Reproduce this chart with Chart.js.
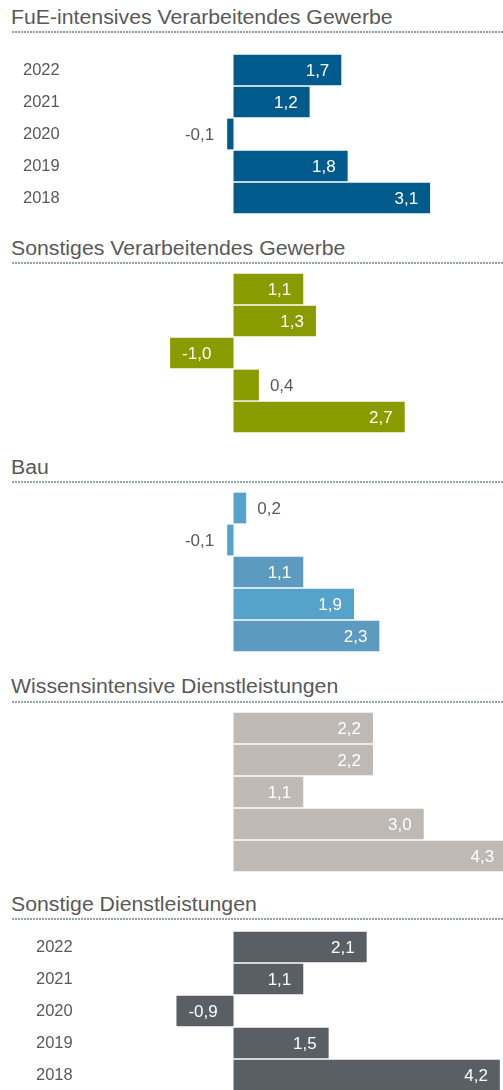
<!DOCTYPE html>
<html><head><meta charset="utf-8">
<script src="https://cdn.jsdelivr.net/npm/chart.js@4"></script>
<style>
html,body{margin:0;padding:0;width:503px;height:1090px;overflow:hidden;background:#fff;font-family:"Liberation Sans",Arial,sans-serif;}
.title{position:absolute;left:11px;font-size:19.5px;line-height:22px;color:#595959;white-space:nowrap;transform:scaleX(1.09);transform-origin:left top;}
.rule{position:absolute;left:12px;width:491px;height:2px;background-image:linear-gradient(to right,#93a39f 0,#93a39f 2px,transparent 2px);background-size:3px 2px;}
canvas{position:absolute;left:0;}
</style></head><body>
<script>
// ---- data ----
const years = ['2022', '2021', '2020', '2019', '2018'];
const panelTitles = [
  'FuE-intensives Verarbeitendes Gewerbe',
  'Sonstiges Verarbeitendes Gewerbe',
  'Bau',
  'Wissensintensive Dienstleistungen',
  'Sonstige Dienstleistungen'
];
const fueValues = [1.7, 1.2, -0.1, 1.8, 3.1];
const sonstVgValues = [1.1, 1.3, -1.0, 0.4, 2.7];
const bauValues = [0.2, -0.1, 1.1, 1.9, 2.3];
const wissenValues = [2.2, 2.2, 1.1, 3.0, 4.3];
const sonstDlValues = [2.1, 1.1, -0.9, 1.5, 4.2];

// ---- styling / layout ----
const panelSeries = [fueValues, sonstVgValues, bauValues, wissenValues, sonstDlValues];
const panelColors = [
  '#005B8C',
  '#8A9B00',
  ['#55A3CB', '#55A3CB', '#5C9BBF', '#55A3CB', '#5C9BBF'],
  '#BEB9B5',
  '#5A5F65'
];
const titleTops = [6.3, 237.3, 456.3, 675.3, 893.3];
const ruleTops = [31, 262, 481, 701, 918];
const canvasTops = [54, 273, 492, 712, 931];
const yearPad = [23, 0, 0, 0, 36];
const showYears = [true, false, false, false, true];
const FONT = '"Liberation Sans", Arial, sans-serif';

const valueLabels = {
  id: 'valueLabels',
  afterDatasetsDraw(chart) {
    const ctx = chart.ctx;
    const meta = chart.getDatasetMeta(0);
    const data = chart.data.datasets[0].data;
    ctx.save();
    ctx.font = '17px ' + FONT;
    ctx.textBaseline = 'middle';
    meta.data.forEach((bar, i) => {
      const v = data[i];
      const txt = v.toFixed(1).replace('.', ',');
      const inside = Math.abs(v) >= 0.6;
      let x, align, color;
      if (v >= 0) {
        if (inside) { x = bar.x - 12; align = 'right'; color = '#ffffff'; }
        else { x = bar.x + 11; align = 'left'; color = '#595959'; }
      } else {
        if (inside) { x = bar.x + 12; align = 'left'; color = '#ffffff'; }
        else { x = bar.x - 13; align = 'right'; color = '#595959'; }
      }
      ctx.textAlign = align;
      ctx.fillStyle = color;
      ctx.fillText(txt, x, bar.y + 1);
    });
    ctx.restore();
  }
};

panelTitles.forEach((t, i) => {
  const d = document.createElement('div');
  d.className = 'title';
  d.style.top = titleTops[i] + 'px';
  d.textContent = t;
  document.body.appendChild(d);
  const r = document.createElement('div');
  r.className = 'rule';
  r.style.top = ruleTops[i] + 'px';
  document.body.appendChild(r);

  const c = document.createElement('canvas');
  c.width = 503; c.height = 160;
  c.style.top = canvasTops[i] + 'px';
  document.body.appendChild(c);
  const p = yearPad[i];
  new Chart(c, {
    type: 'bar',
    data: {
      labels: years,
      datasets: [{
        data: panelSeries[i],
        backgroundColor: panelColors[i],
        borderWidth: 0,
        barPercentage: 0.96,
        categoryPercentage: 1
      }]
    },
    options: {
      indexAxis: 'y',
      responsive: false,
      animation: false,
      events: [],
      layout: { padding: { left: p, right: 0, top: 0, bottom: 0 } },
      plugins: { legend: { display: false }, tooltip: { enabled: false } },
      scales: {
        x: { display: false, min: -2.5, max: 4.25 },
        y: {
          position: 'left',
          grid: { display: false },
          border: { display: false },
          ticks: {
            display: showYears[i],
            crossAlign: 'far',
            padding: 0,
            color: '#595959',
            font: { size: 16.5, family: FONT }
          },
          afterFit(s) { s.width = 75 - p; s.paddingTop = 0; s.paddingBottom = 0; }
        }
      }
    },
    plugins: [valueLabels]
  });
});
</script>
</body></html>
